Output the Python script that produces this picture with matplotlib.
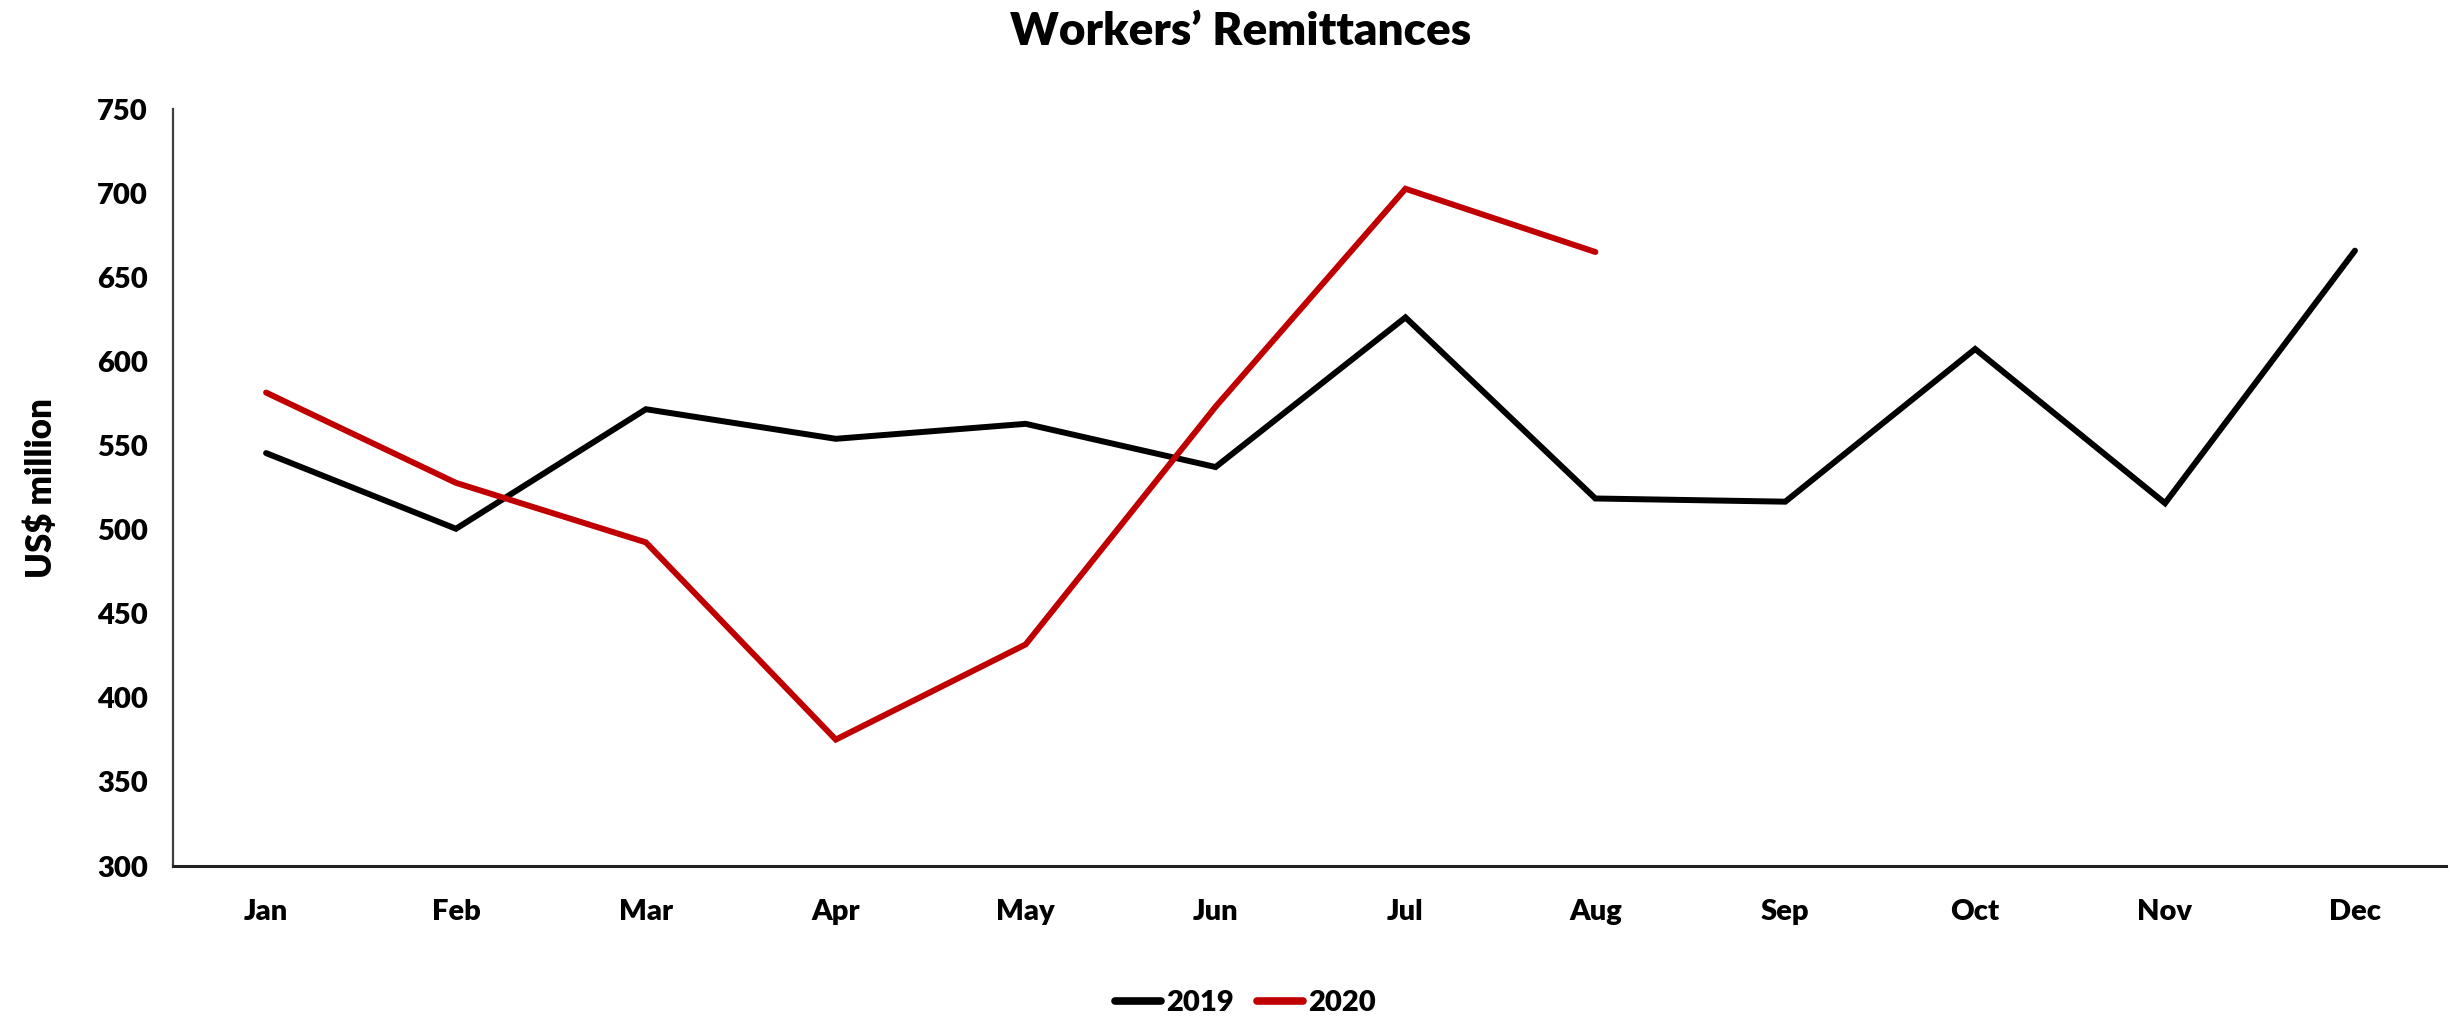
import matplotlib
matplotlib.use("Agg")
import matplotlib.pyplot as plt

# Monthly workers' remittances, US$ million
months = ["Jan", "Feb", "Mar", "Apr", "May", "Jun", "Jul", "Aug", "Sep", "Oct", "Nov", "Dec"]
remit_2019 = [545.6, 500.6, 571.7, 554.1, 563.0, 537.3, 626.3, 518.6, 516.7, 607.5, 515.8, 666.0]
remit_2020 = [581.6, 527.9, 492.5, 375.2, 431.8, 573.2, 702.8, 665.2]
y_ticks = [300, 350, 400, 450, 500, 550, 600, 650, 700, 750]

plt.rcParams["font.family"] = ["Lato", "DejaVu Sans"]
plt.rcParams["font.weight"] = "bold"

fig = plt.figure(figsize=(24.51, 10.18), dpi=100)
ax = fig.add_axes([0.0706, 0.1493, 0.9274, 0.7432])

x19 = list(range(len(remit_2019)))
x20 = list(range(len(remit_2020)))
ax.plot(x19, remit_2019, color="#000000", lw=4.3, label="2019",
        solid_joinstyle="miter", solid_capstyle="round")
ax.plot(x20, remit_2020, color="#C00000", lw=4.3, label="2020",
        solid_joinstyle="miter", solid_capstyle="round")

ax.set_xlim(-0.49, 11.48)
ax.set_ylim(300, 750)
ax.set_xticks(range(len(months)))
ax.set_xticklabels(months, fontsize=21, fontweight="heavy")
ax.set_yticks(y_ticks)
ax.set_yticklabels([str(v) for v in y_ticks], fontsize=21, fontweight="heavy")
ax.tick_params(axis="both", length=0)
ax.tick_params(axis="x", pad=24)
ax.tick_params(axis="y", pad=18)

for side in ("top", "right"):
    ax.spines[side].set_visible(False)
ax.spines["left"].set_color("#404040")
ax.spines["left"].set_linewidth(1.6)
ax.spines["bottom"].set_color("#202020")
ax.spines["bottom"].set_linewidth(2.2)

ax.set_ylabel("US$ million", fontsize=25, fontweight="heavy", labelpad=28)

fig.text(0.506, 0.969, "Workers\u2019 Remittances", ha="center", va="center",
         fontsize=33, fontweight="heavy")

leg = fig.legend(loc="center", bbox_to_anchor=(0.508, 0.015), ncol=2, frameon=False,
                 handlelength=1.6, handletextpad=0.15, columnspacing=0.8,
                 prop={"weight": "heavy", "size": 21})
for line in leg.get_lines():
    line.set_linewidth(5.5)

fig.savefig("out.png", dpi=100)
